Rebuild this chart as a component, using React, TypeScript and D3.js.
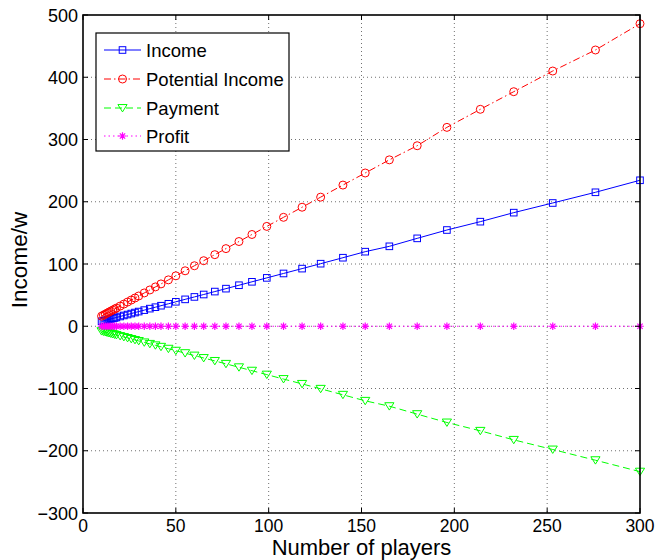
import React from "react";
import * as d3 from "d3";

const players = [10, 11, 12, 13, 14, 15, 16, 17, 18, 20, 22, 24, 26, 28, 30, 33, 36, 39, 42, 46, 50, 55, 60, 65, 71, 77, 84, 91, 99, 108, 118, 128, 140, 152, 165, 180, 196, 214, 232, 253, 276, 300];
const income = [7.9, 8.6, 9.4, 10.2, 11.0, 11.8, 12.6, 13.3, 14.1, 15.7, 17.3, 18.8, 20.4, 22.0, 23.6, 25.9, 28.3, 30.6, 33.0, 36.1, 39.3, 43.2, 47.1, 51.0, 55.7, 60.4, 65.9, 71.4, 77.7, 84.8, 92.6, 100.5, 110.1, 119.8, 128.4, 141.2, 154.6, 168.0, 182.5, 198.0, 215.2, 234.5];
const potentialIncome = [16.2, 17.8, 19.4, 21.1, 22.7, 24.3, 25.9, 27.5, 29.2, 32.4, 35.6, 38.9, 42.1, 45.4, 48.6, 53.5, 58.3, 63.2, 68.0, 74.5, 81.0, 89.1, 97.2, 105.3, 115.0, 124.7, 136.1, 147.4, 160.4, 175.0, 191.2, 207.4, 226.8, 246.2, 267.3, 290.0, 319.5, 348.5, 376.8, 410.0, 443.8, 486.0];
const payment = [-7.9, -8.6, -9.4, -10.2, -11.0, -11.8, -12.6, -13.3, -14.1, -15.7, -17.3, -18.8, -20.4, -22.0, -23.6, -25.9, -28.3, -30.6, -33.0, -36.1, -39.3, -43.2, -47.1, -51.0, -55.7, -60.4, -65.9, -71.4, -77.7, -84.8, -92.6, -100.5, -110.1, -119.8, -128.4, -141.2, -154.6, -168.0, -182.5, -198.0, -215.2, -233.6];
const profit = [0, 0, 0, 0, 0, 0, 0, 0, 0, 0, 0, 0, 0, 0, 0, 0, 0, 0, 0, 0, 0, 0, 0, 0, 0, 0, 0, 0, 0, 0, 0, 0, 0, 0, 0, 0, 0, 0, 0, 0, 0, 0];

const xTicks = [0, 50, 100, 150, 200, 250, 300];
const yTicks = [-300, -200, -100, 0, 100, 200, 300, 400, 500];
const seriesNames = ["Income", "Potential Income", "Payment", "Profit"];

const W = 659, H = 560;
const L = 83, R = 640, T = 15, B = 513;
const FONT = "'Liberation Sans', Arial, Helvetica, sans-serif";

type MarkerKind = "square" | "circle" | "tri" | "star";

function Marker({ kind, x, y, color }: { kind: MarkerKind; x: number; y: number; color: string }) {
  if (kind === "square") return <rect x={x - 3.3} y={y - 3.3} width={6.6} height={6.6} fill="none" stroke={color} strokeWidth={1} />;
  if (kind === "circle") return <circle cx={x} cy={y} r={4} fill="none" stroke={color} strokeWidth={1} />;
  if (kind === "tri") {
    const s = 4.6;
    return <path d={`M${x - s},${y - s * 0.75}L${x + s},${y - s * 0.75}L${x},${y + s * 0.85}Z`} fill="none" stroke={color} strokeWidth={1} />;
  }
  const s = 3.8, d = s * 0.7;
  return (
    <path d={`M${x - s},${y}L${x + s},${y}M${x},${y - s}L${x},${y + s}M${x - d},${y - d}L${x + d},${y + d}M${x - d},${y + d}L${x + d},${y - d}`} stroke={color} strokeWidth={1.2} />
  );
}

export default function App() {
  const x = d3.scaleLinear().domain([0, 300]).range([L, R]);
  const y = d3.scaleLinear().domain([-300, 500]).range([B, T]);
  const series = [
    { name: seriesNames[0], values: income, color: "#0000ff", dash: undefined as string | undefined, kind: "square" as MarkerKind },
    { name: seriesNames[1], values: potentialIncome, color: "#ff0000", dash: "7 3 1.5 3", kind: "circle" as MarkerKind },
    { name: seriesNames[2], values: payment, color: "#00ff00", dash: "7 4", kind: "tri" as MarkerKind },
    { name: seriesNames[3], values: profit, color: "#ff00ff", dash: "1.5 3", kind: "star" as MarkerKind },
  ];
  const line = d3.line<number>().x((_, i) => x(players[i])).y((v) => y(v));
  const legendY = [50, 79, 108, 136];

  return (
    <svg width={W} height={H} style={{ position: "absolute", left: 0, top: 0, background: "#fff" }} fontFamily={FONT}>
      <rect x={0} y={0} width={W} height={H} fill="#fff" />
      {xTicks.slice(1, -1).map((t) => (
        <line key={"gx" + t} x1={x(t)} x2={x(t)} y1={T} y2={B} stroke="#707070" strokeWidth={1} strokeDasharray="1 3" />
      ))}
      {yTicks.slice(1, -1).map((t) => (
        <line key={"gy" + t} x1={L} x2={R} y1={y(t)} y2={y(t)} stroke="#707070" strokeWidth={1} strokeDasharray="1 3" />
      ))}
      {series.map((s) => (
        <g key={s.name}>
          <path d={line(s.values) || ""} fill="none" stroke={s.color} strokeWidth={1} strokeDasharray={s.dash} />
          {s.values.map((v, i) => (
            <Marker key={i} kind={s.kind} x={x(players[i])} y={y(v)} color={s.color} />
          ))}
        </g>
      ))}
      {xTicks.map((t) => (
        <g key={"tx" + t}>
          <line x1={x(t)} x2={x(t)} y1={B} y2={B - 5} stroke="#000" />
          <line x1={x(t)} x2={x(t)} y1={T} y2={T + 5} stroke="#000" />
          <text x={x(t)} y={532} fontSize={17.5} textAnchor="middle" fill="#000">{t}</text>
        </g>
      ))}
      {yTicks.map((t) => (
        <g key={"ty" + t}>
          <line x1={L} x2={L + 5} y1={y(t)} y2={y(t)} stroke="#000" />
          <line x1={R} x2={R - 5} y1={y(t)} y2={y(t)} stroke="#000" />
          <text x={78} y={y(t) + 6.5} fontSize={18} textAnchor="end" fill="#000">{t < 0 ? "\u2212" + Math.abs(t) : String(t)}</text>
        </g>
      ))}
      <rect x={L} y={T} width={R - L} height={B - T} fill="none" stroke="#000" strokeWidth={1.6} />
      <text x={(L + R) / 2} y={555} fontSize={22} textAnchor="middle" fill="#000">Number of players</text>
      <text transform={`translate(27,${(T + B) / 2 - 4}) rotate(-90)`} fontSize={22.5} textAnchor="middle" fill="#000">Income/w</text>
      <rect x={96} y={33} width={193} height={118} fill="#fff" stroke="#000" strokeWidth={1.2} />
      {series.map((s, i) => (
        <g key={"lg" + s.name}>
          <line x1={104} x2={141} y1={legendY[i]} y2={legendY[i]} stroke={s.color} strokeWidth={1} strokeDasharray={s.dash} />
          <Marker kind={s.kind} x={122.5} y={legendY[i]} color={s.color} />
          <text x={146} y={legendY[i] + 6.5} fontSize={18.5} fill="#000">{s.name}</text>
        </g>
      ))}
    </svg>
  );
}
